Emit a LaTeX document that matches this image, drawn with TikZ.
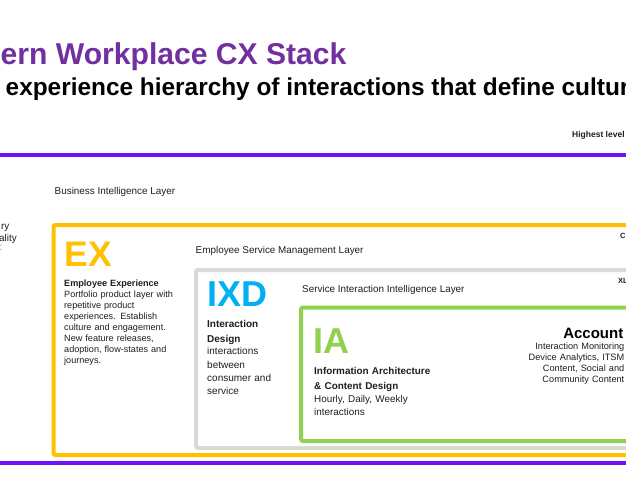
\documentclass[tikz,border=0pt]{standalone}
\usepackage{fontspec}
\setmainfont{Liberation Sans}
\definecolor{titlepurple}{HTML}{7030A0}
\definecolor{linepurple}{HTML}{7010F8}
\definecolor{exyellow}{HTML}{FFC000}
\definecolor{layergray}{HTML}{D9D9D6}
\definecolor{iagreen}{HTML}{92D050}
\definecolor{ixdblue}{HTML}{00B0F0}
\definecolor{bodytext}{HTML}{1E1E1E}
\begin{document}
\begin{tikzpicture}[x=1pt,y=-1pt,
  lbl/.style={inner sep=0pt, anchor=base west, text=bodytext, font=\fontsize{9.9}{11}\selectfont},
  big/.style={inner sep=0pt, anchor=base west, font=\fontsize{36}{36}\selectfont\bfseries},
  tag/.style={inner sep=0pt, anchor=base west, text=bodytext, font=\fontsize{7.5}{9}\selectfont\bfseries},
  layerbox/.style={line width=4pt, rounded corners=2pt},
  bar/.style={line width=4pt, draw=linepurple}
]
\useasboundingbox (0,0) rectangle (626,500);
\clip (0,0) rectangle (626,500);

% title
\node[inner sep=0pt, anchor=base west, text=titlepurple, font=\fontsize{30.1}{31}\selectfont\bfseries] (title) at (0.5,65) {ern Workplace CX Stack};
\node[inner sep=0pt, anchor=base west, text=black, font=\fontsize{24.4}{26}\selectfont\bfseries] (subtitle) at (5.5,95.5) {experience hierarchy of interactions that define culture};
\node[tag, font=\fontsize{8.5}{9}\selectfont\bfseries] (highest) at (572,138) {Highest level};

% purple bars
\coordinate (tl) at (-5,155); \coordinate (tr) at (640,155);
\coordinate (bl) at (-5,463); \coordinate (br) at (640,463);
\draw[bar] (tl) -- (tr);
\draw[bar] (bl) -- (br);

% left cut texts
\node[lbl, anchor=base east] (cut1) at (9.5,229) {ry};
\node[lbl, anchor=base east] (cut2) at (17,241.5) {ality};
\node[lbl, anchor=base east, text=gray] (cut3) at (2.5,250) {:};

\node[lbl] (bil) at (54.5,194) {Business Intelligence Layer};

% boxes
\draw[layerbox, draw=exyellow] (53.5,225) rectangle (700,455);
\draw[layerbox, draw=layergray] (196,270) rectangle (700,448);
\draw[layerbox, draw=iagreen] (301,307.5) rectangle (700,441);

% EX
\node[big, text=exyellow, font=\fontsize{35.5}{35}\selectfont\bfseries] (ex) at (64.5,266.7) {EX};
\node[lbl, font=\fontsize{9.1}{11}\selectfont, text width=160pt, align=left] (exdesc) at (64,286)
  {\textbf{Employee Experience}\\Portfolio product layer with\\repetitive product\\experiences. Establish\\culture and engagement.\\New feature releases,\\adoption, flow-states and\\journeys.};
\node[lbl] (esm) at (195.5,253) {Employee Service Management Layer};
\node[tag] (ctag) at (620,238.5) {C};

% IXD
\node[big, text=ixdblue] (ixd) at (207.3,306.7) {IXD};
\node[lbl, font=\fontsize{10}{13.3}\selectfont, text width=90pt, align=left] (ixddesc) at (207,327.7)
  {\textbf{Interaction}\\[1.2pt]\textbf{Design}\\[-0.6pt]interactions\\between\\consumer and\\service};
\node[lbl] (sii) at (302,292) {Service Interaction Intelligence Layer};
\node[tag] (xltag) at (618,283.5) {XL};

% IA
\node[big, text=iagreen] (ia) at (313,353.5) {IA};
\node[lbl, font=\fontsize{9.9}{13}\selectfont, text width=150pt, align=left] (iadesc) at (314,374)
  {\textbf{Information Architecture}\\[2pt]\textbf{\& Content Design}\\Hourly, Daily, Weekly\\interactions};

% Account
\node[inner sep=0pt, anchor=base east, text=black, font=\fontsize{15}{16}\selectfont\bfseries] (acct) at (623.5,338) {Account};
\node[lbl, anchor=base east, font=\fontsize{9.2}{11}\selectfont, text width=130pt, align=right] (acctdesc) at (624.5,349)
  {Interaction Monitoring\\Device Analytics, ITSM\\Content, Social and\\Community Content};
\end{tikzpicture}
\end{document}
